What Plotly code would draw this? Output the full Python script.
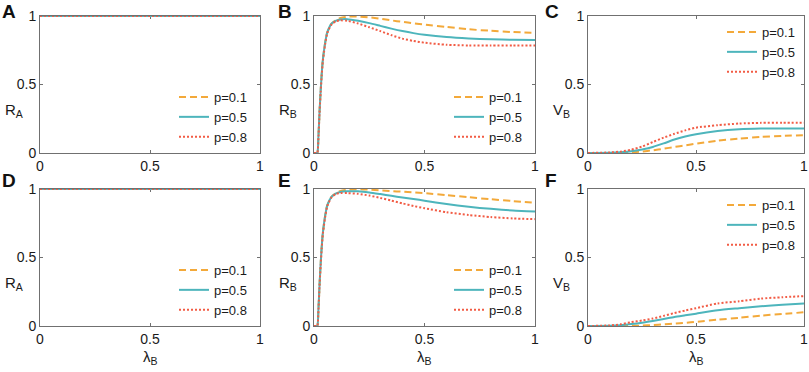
import plotly.graph_objects as go

W, H = 809, 372

# ---------------- data ----------------
labels = ["p=0.1", "p=0.5", "p=0.8"]
colors = ["#F3A93A", "#4DB5BC", "#F25C45"]
dashes = ["7px,4px", "solid", "2px,2px"]

lam_flat = [0.0, 1.0]
RA_top = [[1.0, 1.0], [1.0, 1.0], [1.0, 1.0]]
RA_bot = [[1.0, 1.0], [1.0, 1.0], [1.0, 1.0]]

lam_R = [0.0, 0.01, 0.015, 0.02, 0.025, 0.03, 0.035, 0.04, 0.05, 0.06, 0.08,
         0.1, 0.12, 0.15, 0.2, 0.25, 0.3, 0.35, 0.4, 0.45, 0.5, 0.6, 0.7, 0.8, 0.9, 1.0]

RB_top_p01 = [0, 0, 0, 0.12, 0.3, 0.45, 0.58, 0.68, 0.8, 0.88, 0.945,
              0.97, 0.985, 0.995, 0.996, 0.99, 0.98, 0.968, 0.957, 0.947, 0.938, 0.92, 0.903, 0.892, 0.883, 0.877]
RB_top_p05 = [0, 0, 0, 0.12, 0.3, 0.45, 0.58, 0.68, 0.8, 0.88, 0.945,
              0.966, 0.975, 0.977, 0.965, 0.948, 0.928, 0.908, 0.89, 0.875, 0.863, 0.846, 0.836, 0.83, 0.826, 0.824]
RB_top_p08 = [0, 0, 0, 0.11, 0.29, 0.44, 0.57, 0.67, 0.79, 0.875, 0.94,
              0.962, 0.968, 0.965, 0.945, 0.918, 0.89, 0.86, 0.835, 0.818, 0.805, 0.79, 0.785, 0.784, 0.784, 0.784]

RB_bot_p01 = [0, 0, 0, 0.12, 0.3, 0.45, 0.58, 0.68, 0.8, 0.88, 0.945,
              0.97, 0.985, 0.995, 0.998, 0.995, 0.99, 0.985, 0.98, 0.975, 0.97, 0.955, 0.94, 0.925, 0.912, 0.9]
RB_bot_p05 = [0, 0, 0, 0.12, 0.3, 0.45, 0.58, 0.68, 0.8, 0.88, 0.945,
              0.968, 0.978, 0.983, 0.983, 0.975, 0.963, 0.95, 0.938, 0.927, 0.915, 0.89, 0.87, 0.855, 0.843, 0.836]
RB_bot_p08 = [0, 0, 0, 0.11, 0.29, 0.44, 0.57, 0.67, 0.79, 0.875, 0.94,
              0.965, 0.97, 0.97, 0.965, 0.952, 0.935, 0.915, 0.895, 0.876, 0.86, 0.83, 0.81, 0.795, 0.785, 0.78]

lam_V = [0.0, 0.1, 0.15, 0.2, 0.25, 0.3, 0.35, 0.4, 0.45, 0.5, 0.6, 0.7, 0.8, 0.9, 1.0]

VB_top_p01 = [0, 0, 0.001, 0.005, 0.011, 0.02, 0.031, 0.044, 0.056, 0.068, 0.09, 0.105, 0.117, 0.125, 0.13]
VB_top_p05 = [0, 0.002, 0.006, 0.013, 0.026, 0.044, 0.07, 0.098, 0.12, 0.137, 0.16, 0.173, 0.178, 0.179, 0.178]
VB_top_p08 = [0, 0.004, 0.01, 0.024, 0.047, 0.08, 0.112, 0.14, 0.165, 0.185, 0.203, 0.215, 0.22, 0.221, 0.22]

VB_bot_p01 = [0, 0, 0, 0.001, 0.003, 0.007, 0.012, 0.017, 0.023, 0.03, 0.046, 0.06, 0.076, 0.088, 0.10]
VB_bot_p05 = [0, 0.002, 0.006, 0.014, 0.024, 0.037, 0.051, 0.066, 0.078, 0.09, 0.115, 0.13, 0.144, 0.155, 0.164]
VB_bot_p08 = [0, 0.004, 0.012, 0.028, 0.04, 0.054, 0.074, 0.095, 0.113, 0.13, 0.165, 0.18, 0.2, 0.21, 0.218]

tick_vals = [0, 0.5, 1]
tick_text = ["0", "0.5", "1"]

# ---------------- layout geometry (pixels) ----------------
cols_px = [(40, 260), (314, 535), (588, 804)]
legend_right_px = [260, 535, 808]
rows_px = [(16, 153), (189, 326)]

FONT = "Liberation Sans, Arial, Helvetica, sans-serif"

panels = [
    (0, 0, lam_flat, RA_top, "R<sub>A</sub>", "A", "bottom"),
    (0, 1, lam_R, [RB_top_p01, RB_top_p05, RB_top_p08], "R<sub>B</sub>", "B", "bottom"),
    (0, 2, lam_V, [VB_top_p01, VB_top_p05, VB_top_p08], "V<sub>B</sub>", "C", "top"),
    (1, 0, lam_flat, RA_bot, "R<sub>A</sub>", "D", "bottom"),
    (1, 1, lam_R, [RB_bot_p01, RB_bot_p05, RB_bot_p08], "R<sub>B</sub>", "E", "bottom"),
    (1, 2, lam_V, [VB_bot_p01, VB_bot_p05, VB_bot_p08], "V<sub>B</sub>", "F", "top"),
]

fig = go.Figure()
layout = dict(
    width=W, height=H,
    margin=dict(l=0, r=0, t=0, b=0, autoexpand=False),
    paper_bgcolor="white", plot_bgcolor="white",
    font=dict(family=FONT, size=14, color="#1a1a1a"),
    showlegend=True,
    annotations=[],
)

def px_x(p):
    return p / W

def px_y(p):
    return 1 - p / H

axis_common = dict(
    range=[0, 1], tickvals=tick_vals, ticktext=tick_text,
    showline=True, linecolor="#707070", linewidth=1, mirror="ticks",
    ticks="inside", ticklen=3, tickcolor="#707070", tickwidth=1,
    showgrid=False, zeroline=False, fixedrange=True,
    ticklabeloverflow="allow",
    tickfont=dict(family=FONT, size=14, color="#1a1a1a"),
)

for i, (r, c, xs, series, ylab, letter, lpos) in enumerate(panels):
    n = i + 1
    sfx = "" if n == 1 else str(n)
    x0, x1 = cols_px[c]
    y0, y1 = rows_px[r]
    layout["xaxis" + sfx] = dict(axis_common, domain=[px_x(x0), px_x(x1)],
                                 anchor="y" + sfx, layer="below traces")
    layout["yaxis" + sfx] = dict(axis_common, domain=[px_y(y1), px_y(y0)],
                                 anchor="x" + sfx, layer="below traces")
    legname = "legend" + sfx
    for k in range(3):
        fig.add_trace(go.Scatter(
            x=xs, y=series[k], mode="lines", name=labels[k],
            line=dict(color=colors[k], width=2, dash=dashes[k], shape="spline", smoothing=0.6),
            xaxis="x" + sfx, yaxis="y" + sfx, legend=legname,
        ))
    if lpos == "bottom":
        ly = px_y(y1 - 71)
    else:
        ly = px_y(y0 + 1)
    layout[legname] = dict(
        x=px_x(legend_right_px[c] - 86), y=ly, xanchor="left", yanchor="top",
        bgcolor="rgba(255,255,255,0)", borderwidth=0,
        font=dict(family=FONT, size=13, color="#1a1a1a"),
        tracegroupgap=0, itemwidth=30,
    )
    layout["annotations"].append(dict(
        text=ylab, x=px_x(x0 - 37), y=px_y((y0 + y1) / 2 + 26),
        xref="paper", yref="paper", xanchor="left", yanchor="middle",
        showarrow=False, font=dict(family=FONT, size=15, color="#1a1a1a")))
    lx = [0, 276, 543][c]
    lyp = [12, 180][r]
    layout["annotations"].append(dict(
        text="<b>%s</b>" % letter, x=px_x(lx), y=px_y(lyp),
        xref="paper", yref="paper", xanchor="left", yanchor="middle",
        showarrow=False, font=dict(family=FONT, size=19, color="#111111")))
    if r == 1:
        layout["annotations"].append(dict(
            text="λ<sub>B</sub>", x=px_x((x0 + x1) / 2), y=px_y(357),
            xref="paper", yref="paper", xanchor="center", yanchor="middle",
            showarrow=False, font=dict(family=FONT, size=15, color="#1a1a1a")))

fig.update_layout(**layout)
fig.write_html("out.html", config={"displayModeBar": False},
               post_script="document.body.style.margin='0';document.body.style.overflow='hidden';")
